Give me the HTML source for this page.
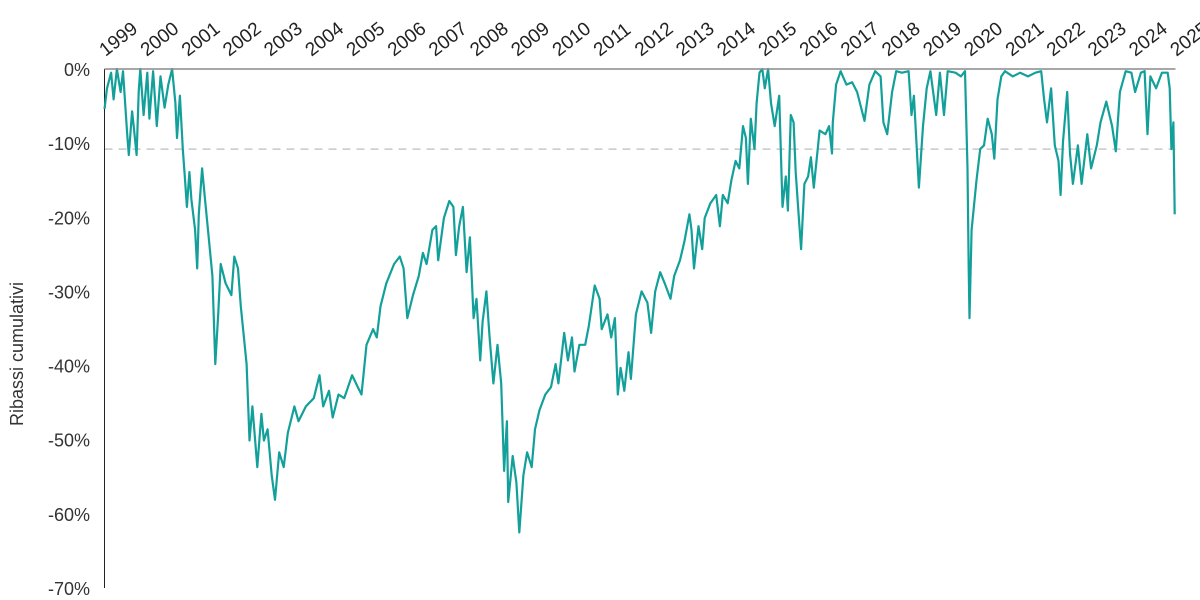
<!DOCTYPE html>
<html><head><meta charset="utf-8">
<style>
html,body{margin:0;padding:0;background:#fff;}
svg{display:block;font-family:"Liberation Sans",sans-serif;}
</style></head>
<body>
<svg id="chart" width="1200" height="600" viewBox="0 0 1200 600" xmlns="http://www.w3.org/2000/svg">
<text x="0" y="0" transform="translate(23,354) rotate(-90)" text-anchor="middle" font-size="18" fill="#333">Ribassi cumulativi</text>
</svg>
<script>
const yearLabels = [1999,2000,2001,2002,2003,2004,2005,2006,2007,2008,2009,2010,2011,2012,2013,2014,2015,2016,2017,2018,2019,2020,2021,2022,2023,2024,2025];
const yTicks = [0,-10,-20,-30,-40,-50,-60,-70];
const thresholdValue = -10.8;
const times = [1999.00,1999.06,1999.16,1999.22,1999.30,1999.39,1999.45,1999.55,1999.59,1999.67,1999.71,1999.78,1999.83,1999.87,1999.95,2000.04,2000.09,2000.18,2000.27,2000.36,2000.46,2000.55,2000.64,2000.72,2000.76,2000.83,2000.90,2000.95,2001.00,2001.06,2001.11,2001.20,2001.25,2001.29,2001.37,2001.43,2001.53,2001.62,2001.69,2001.76,2001.82,2001.94,2002.08,2002.15,2002.24,2002.31,2002.45,2002.52,2002.59,2002.71,2002.81,2002.87,2002.96,2003.06,2003.14,2003.24,2003.35,2003.45,2003.61,2003.71,2003.89,2004.08,2004.22,2004.31,2004.45,2004.54,2004.68,2004.82,2005.01,2005.15,2005.24,2005.36,2005.52,2005.61,2005.70,2005.84,2006.03,2006.17,2006.26,2006.35,2006.49,2006.63,2006.73,2006.82,2006.96,2007.05,2007.10,2007.24,2007.37,2007.47,2007.53,2007.61,2007.70,2007.79,2007.87,2007.96,2008.03,2008.12,2008.18,2008.27,2008.35,2008.44,2008.54,2008.63,2008.70,2008.77,2008.80,2008.91,2009.00,2009.07,2009.17,2009.26,2009.37,2009.45,2009.56,2009.70,2009.84,2009.95,2010.02,2010.16,2010.25,2010.35,2010.41,2010.53,2010.67,2010.76,2010.90,2011.02,2011.07,2011.21,2011.30,2011.39,2011.46,2011.53,2011.62,2011.72,2011.78,2011.90,2012.04,2012.18,2012.27,2012.37,2012.49,2012.60,2012.74,2012.83,2012.97,2013.08,2013.20,2013.25,2013.31,2013.42,2013.51,2013.57,2013.71,2013.85,2013.94,2014.01,2014.13,2014.22,2014.32,2014.41,2014.50,2014.57,2014.62,2014.69,2014.78,2014.83,2014.90,2014.97,2015.03,2015.11,2015.18,2015.27,2015.38,2015.46,2015.54,2015.59,2015.66,2015.73,2015.78,2015.85,2015.91,2015.99,2016.08,2016.15,2016.22,2016.36,2016.50,2016.59,2016.66,2016.68,2016.76,2016.87,2017.01,2017.15,2017.27,2017.45,2017.57,2017.71,2017.84,2017.91,2018.00,2018.12,2018.22,2018.36,2018.52,2018.59,2018.65,2018.77,2018.87,2018.96,2019.05,2019.19,2019.28,2019.38,2019.47,2019.66,2019.79,2019.89,2019.95,2019.98,2020.00,2020.05,2020.17,2020.26,2020.35,2020.44,2020.54,2020.60,2020.68,2020.77,2020.86,2021.05,2021.23,2021.42,2021.60,2021.74,2021.81,2021.88,2021.98,2022.07,2022.16,2022.21,2022.27,2022.37,2022.44,2022.51,2022.63,2022.72,2022.86,2022.95,2023.09,2023.18,2023.32,2023.46,2023.55,2023.65,2023.79,2023.93,2024.02,2024.16,2024.25,2024.32,2024.39,2024.53,2024.67,2024.81,2024.86,2024.90,2024.95,2024.98];
const drawdowns = [-5.4,-2.6,-0.5,-4.1,0,-3.1,-0.3,-8.8,-11.6,-5.7,-7.7,-11.6,-3.1,0,-6.2,-0.5,-6.7,-0.3,-7.7,-1.0,-5.2,-2.1,0,-4.6,-9.3,-3.6,-10.8,-14.5,-18.6,-13.9,-17.6,-21.7,-26.9,-19.6,-13.4,-17.0,-22.7,-27.9,-39.8,-33.1,-26.3,-28.9,-30.5,-25.3,-26.9,-32.0,-39.8,-50.1,-45.5,-53.7,-46.5,-50.1,-48.6,-54.8,-58.1,-51.7,-53.7,-49.1,-45.5,-47.5,-45.5,-44.4,-41.3,-45.5,-43.4,-47.0,-43.9,-44.4,-41.3,-42.9,-43.9,-37.2,-35.1,-36.2,-32.0,-28.9,-26.3,-25.3,-26.9,-33.6,-30.5,-27.9,-24.8,-26.3,-21.7,-21.2,-25.8,-20.1,-17.8,-18.6,-25.1,-21.2,-18.6,-27.4,-22.7,-33.6,-31.0,-39.3,-34.1,-30.0,-36.2,-42.4,-37.2,-42.4,-54.2,-47.5,-58.4,-52.2,-55.8,-62.5,-54.8,-51.7,-53.7,-48.6,-46.0,-43.9,-42.9,-39.8,-42.4,-35.6,-39.3,-36.2,-40.8,-37.2,-37.2,-34.6,-29.2,-31.0,-35.1,-33.1,-36.2,-33.6,-43.9,-40.3,-43.4,-38.2,-41.8,-33.1,-30.0,-31.5,-35.6,-30.0,-27.4,-28.9,-31.0,-27.9,-25.8,-23.2,-19.6,-21.7,-26.9,-21.2,-24.3,-20.1,-18.1,-17.0,-21.2,-17.0,-18.1,-15.0,-12.4,-13.4,-7.7,-9.3,-15.5,-6.7,-10.8,-4.6,-0.5,0,-2.6,0,-4.6,-7.7,-3.6,-18.6,-14.5,-19.1,-6.2,-7.2,-13.9,-19.6,-24.3,-15.5,-14.5,-11.9,-16.0,-8.3,-8.8,-7.7,-11.4,-7.2,-2.1,-0.3,-2.1,-1.8,-3.1,-7.0,-2.1,-0.3,-1.0,-7.2,-8.8,-3.1,-0.3,-0.5,-0.3,-6.2,-3.6,-16.0,-7.7,-2.6,-0.3,-6.2,-0.5,-6.2,-0.3,-0.5,-1.0,-0.3,-13.4,-26.9,-33.6,-21.7,-15.0,-10.8,-10.3,-6.7,-8.8,-12.1,-4.1,-1.0,-0.3,-1.0,-0.5,-1.0,-0.5,-0.3,-4.1,-7.2,-2.6,-10.3,-12.4,-17.0,-9.8,-3.1,-11.4,-15.5,-10.3,-15.5,-8.8,-13.4,-10.3,-7.2,-4.4,-7.7,-11.1,-3.1,-0.3,-0.5,-3.1,-0.5,-0.3,-8.8,-1.0,-2.6,-0.5,-0.5,-2.6,-10.8,-7.2,-19.6];

const svg = document.getElementById('chart');
const NS = 'http://www.w3.org/2000/svg';
const X0 = 104.5, X1 = 1175.5, Y0 = 69, Y1 = 588;
function xScale(t){ return X0 + (t - 1999) / 26 * (X1 - X0); }
function yScale(v){ return Y0 + (-v) / 70 * (Y1 - Y0); }
function mk(tag, attrs){ const e = document.createElementNS(NS, tag); for (const k in attrs) e.setAttribute(k, attrs[k]); svg.appendChild(e); return e; }

yTicks.forEach(v => {
  const t = mk('text', {x: 90, y: yScale(v) + 7, 'text-anchor': 'end', 'font-size': 18, fill: '#333'});
  
  
  t.textContent = v + '%';
});
yearLabels.forEach(yr => {
  const x = xScale(yr) + 1;
  const t = mk('text', {x: 0, y: 0, transform: `translate(${x},57) rotate(-38)`, 'font-size': 19, fill: '#222'});
  
  
  t.textContent = yr;
});
const dl = mk('line', {x1: X0, x2: X1, y1: yScale(thresholdValue), y2: yScale(thresholdValue), stroke: '#c8c8c8', 'stroke-width': 1.5, 'stroke-dasharray': '8 6'});


const ya = mk('line', {x1: X0, x2: X0, y1: Y0, y2: Y1, stroke: '#222', 'stroke-width': 1});


let d = '';
times.forEach((t, i) => { d += (i ? 'L' : 'M') + xScale(t).toFixed(1) + ',' + yScale(drawdowns[i]).toFixed(1); });
const p = mk('path', {d: d, fill: 'none', stroke: '#13a09a', 'stroke-width': 2.2, 'stroke-linejoin': 'round'});


const zl = mk('line', {x1: X0, x2: X1, y1: Y0, y2: Y0, stroke: '#8a8a8a', 'stroke-width': 1.5});


</script>
</body></html>
